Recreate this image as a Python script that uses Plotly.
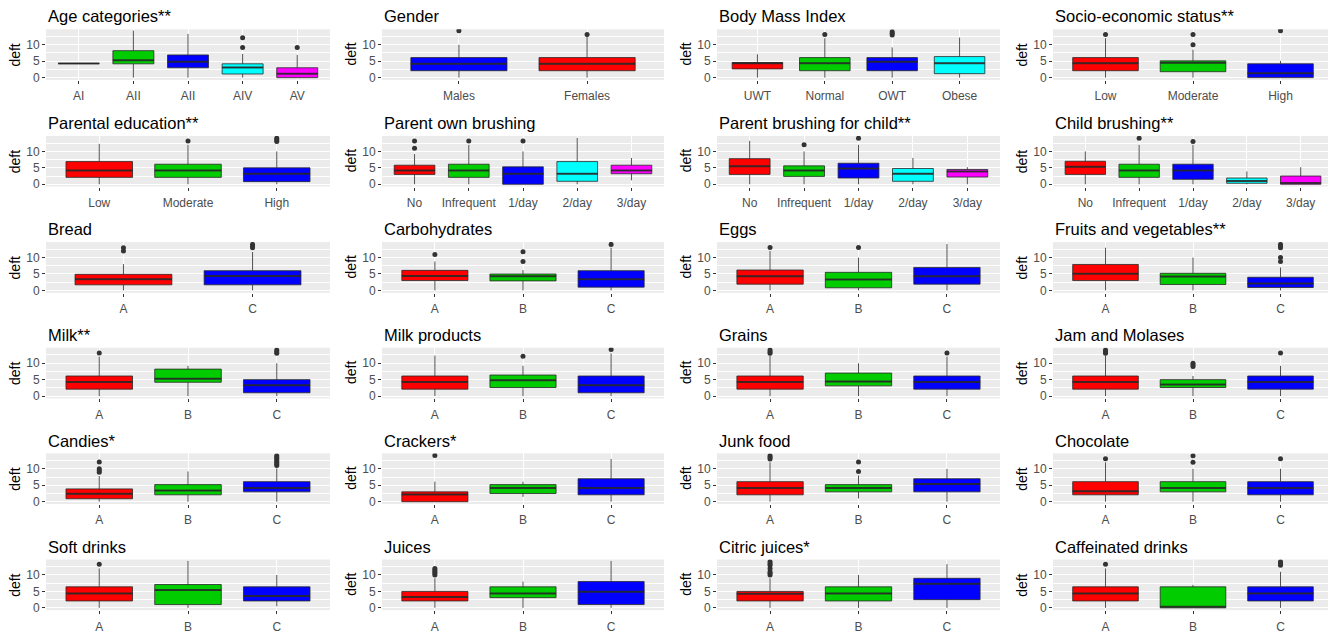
import plotly.graph_objects as go

# ---------------- data ----------------
TITLES = ["Age categories**", "Gender", "Body Mass Index", "Socio-economic status**",
          "Parental education**", "Parent own brushing", "Parent brushing for child**", "Child brushing**",
          "Bread", "Carbohydrates", "Eggs", "Fruits and vegetables**",
          "Milk**", "Milk products", "Grains", "Jam and Molases",
          "Candies*", "Crackers*", "Junk food", "Chocolate",
          "Soft drinks", "Juices", "Citric juices*", "Caffeinated drinks"]

BRUSH = ["No", "Infrequent", "1/day", "2/day", "3/day"]
ABC = ["A", "B", "C"]
CATEGORIES = [["AI", "AII", "AII", "AIV", "AV"], ["Males", "Females"], ["UWT", "Normal", "OWT", "Obese"],
              ["Low", "Moderate", "High"], ["Low", "Moderate", "High"], BRUSH, BRUSH, BRUSH,
              ["A", "C"], ABC, ABC, ABC, ABC, ABC, ABC, ABC, ABC, ABC, ABC, ABC, ABC, ABC, ABC, ABC]

Q1 = [[4.3, 4.2, 3.0, 1.1, 0.0], [2.1, 2.1], [2.65, 2.1, 2.1, 1.2], [2.1, 1.8, 0.0],
      [2.1, 2.1, 0.8], [3.0, 2.1, 0.0, 0.9, 3.2], [3.0, 2.4, 1.9, 0.9, 2.2], [3.0, 2.1, 1.5, 0.3, 0.0],
      [1.7, 1.7], [3.0, 2.9, 1.0], [1.9, 0.8, 1.9], [3.0, 1.8, 0.9],
      [2.1, 4.2, 1.0], [2.1, 2.6, 1.0], [2.1, 3.1, 2.1], [2.1, 2.6, 2.1],
      [0.9, 2.1, 3.0], [0.0, 2.5, 2.1], [2.1, 3.0, 3.0], [2.1, 3.0, 2.1],
      [2.1, 1.0, 2.1], [2.1, 3.1, 1.0], [2.1, 2.1, 2.5], [2.1, 0.0, 2.1]]
MEDIAN = [[4.3, 5.3, 4.8, 3.1, 1.2], [4.2, 4.2], [4.4, 4.4, 4.8, 4.4], [4.4, 4.5, 1.3],
          [4.2, 4.2, 3.2], [4.2, 4.2, 3.2, 3.2, 4.2], [5.5, 4.2, 4.8, 3.2, 3.9], [5.3, 4.2, 4.2, 1.0, 0.4],
          [3.4, 4.4], [4.4, 4.3, 3.4], [4.3, 3.3, 4.3], [5.1, 4.2, 2.1],
          [4.3, 5.3, 3.3], [4.3, 4.8, 3.3], [4.3, 4.4, 4.3], [4.3, 3.5, 4.3],
          [2.4, 3.4, 4.2], [2.2, 4.2, 4.2], [4.2, 4.2, 5.4], [3.2, 4.2, 4.2],
          [4.4, 5.4, 3.6], [3.3, 4.4, 4.9], [4.3, 4.4, 7.3], [4.4, 0.3, 4.4]]
Q3 = [[4.3, 8.2, 6.9, 4.2, 3.0], [6.1, 6.1], [4.6, 6.1, 6.1, 6.4], [6.1, 5.1, 4.2],
      [6.9, 6.1, 5.0], [5.8, 6.1, 5.3, 6.9, 5.8], [7.8, 5.6, 6.4, 4.8, 4.5], [7.0, 6.1, 6.1, 1.9, 2.5],
      [4.9, 6.0], [6.1, 5.0, 6.0], [6.2, 5.5, 7.0], [7.9, 5.2, 4.0],
      [6.1, 8.2, 5.0], [6.1, 6.4, 6.1], [6.1, 7.0, 6.1], [6.1, 5.0, 6.1],
      [3.9, 5.2, 6.1], [3.0, 5.2, 7.0], [6.1, 5.2, 7.0], [6.1, 6.1, 6.1],
      [6.4, 7.1, 6.4], [5.0, 6.4, 8.0], [5.0, 6.4, 9.0], [6.4, 6.4, 6.4]]
LOWER = [[4.3, 0, 0, 0, 0], [0, 0], [0, 0, 0, 0], [0, 0, 0],
         [0, 0, 0], [0, 0, 0, 0, 1.2], [0, 0, 0, 0, 0], [0, 0, 0, 0, 0],
         [0, 0], [0, 0, 0], [0, 0, 0], [0, 0, 0],
         [0, 0, 0], [0, 0, 0], [0, 0, 0], [0, 0, 0],
         [0, 0, 0], [0, 1.5, 0], [0, 1.0, 0], [0, 0, 0],
         [0, 0, 0.5], [0, 0, 0], [0, 0, 0], [0, 0, 0]]
UPPER = [[4.3, 14.3, 13.3, 7.2, 6.9], [10, 12.5], [7.1, 12, 9.2, 12.2], [12, 8.5, 5.1],
         [12.3, 12, 10], [9.2, 12, 10, 14.1, 8], [13.2, 10, 12, 8, 5.2], [10, 12, 12, 3.9, 5.2],
         [8, 11.7], [8.8, 6.2, 13], [12, 10, 14.1], [13, 10, 7],
         [12, 9.2, 10], [12.3, 9.2, 13], [12.3, 10, 12], [12.3, 6.1, 9.2],
         [7.8, 9.2, 10.1], [6.1, 6.1, 13], [12, 8, 10], [12, 10, 10],
         [12, 14.3, 10], [9, 8, 14.3], [9, 10, 13.3], [12, 7.0, 11]]
OUTLIERS = [[[], [], [], [9.2, 12.1], [9.2]], [[14.3], [13.1]], [[], [13.1], [13, 13.5, 14], []],
            [[13.1], [10, 13.1], [14.3]],
            [[], [13.2], [13, 13.5, 14]], [[11, 13.2], [13.2], [13.2], [], []],
            [[], [12], [14], [], []], [[], [14], [13], [], []],
            [[12, 13], [13, 13.5, 14]], [[10.9], [8.8, 11.8], [14]], [[13.1], [13.1], []],
            [[], [], [8.8, 10, 13, 13.5, 14]],
            [[13.1], [], [13, 13.5, 14]], [[], [12.1], [14.2]], [[13, 13.5, 14], [], [13.1]],
            [[13, 13.5, 14], [9, 9.5, 10], [13.1]],
            [[9, 9.5, 10, 12.1], [], [11, 11.5, 12, 12.5, 13, 13.5, 14]], [[14.1], [], []],
            [[13, 13.5, 14], [9.2, 12.1], []], [[13.1], [12, 14], [13.1]],
            [[13.3], [], []], [[10, 10.5, 11, 11.5, 12], [], []],
            [[10, 10.5, 11, 12, 13, 13.5, 14], [], []], [[13.3], [], [13, 13.5, 14]]]
Y_TICKS = [0, 5, 10]
Y_MINOR = [2.5, 7.5, 12.5]

# ---------------- style ----------------
RED, GREEN, BLUE, CYAN, MAGENTA = "#FF0000", "#00CC00", "#0000FF", "#00FFFF", "#FF00FF"
FIVE = [RED, GREEN, BLUE, CYAN, MAGENTA]
FILLS = [FIVE, [BLUE, RED], FIVE[:4], FIVE[:3], FIVE[:3], FIVE, FIVE, FIVE, [RED, BLUE]] + [FIVE[:3]] * 15

W, H = 1336, 634          # browser window
OFF = 8                   # default page body margin
FW, FH = W - OFF, H - OFF  # figure size so it ends at the window edge
COLS = [(46, 330), (382, 664), (717, 1000), (1053, 1333)]   # window px
ROW_TOPS = [29.5, 137, 244, 350.5, 457, 564]
PANEL_H = 51
FONT = "Liberation Sans, Arial, sans-serif"
BOX_W = 0.75
EDGE = "rgba(40,40,40,0.8)"


def px_x(px):
    return (px - OFF) / FW


def px_y(py):
    return 1 - (py - OFF) / FH


fig = go.Figure()
annotations = []
layout_axes = {}

for k in range(24):
    r, c = divmod(k, 4)
    left, right = COLS[c]
    top = ROW_TOPS[r]
    bottom = top + PANEL_H
    sfx = "" if k == 0 else str(k + 1)
    xref, yref = "x" + sfx, "y" + sfx
    cats = CATEGORIES[k]
    n = len(cats)
    for i in range(n):
        xpos = i + 1
        fig.add_trace(go.Box(
            x=[xpos], q1=[Q1[k][i]], median=[MEDIAN[k][i]], q3=[Q3[k][i]],
            lowerfence=[LOWER[k][i]], upperfence=[UPPER[k][i]],
            width=BOX_W, whiskerwidth=0, fillcolor=FILLS[k][i],
            line=dict(color=EDGE, width=1), boxpoints=False,
            xaxis=xref, yaxis=yref, showlegend=False, hoverinfo="skip"))
        # thicker median line (ggplot style)
        fig.add_trace(go.Scatter(
            x=[xpos - BOX_W / 2, xpos + BOX_W / 2], y=[MEDIAN[k][i]] * 2,
            mode="lines", line=dict(color=EDGE, width=2),
            xaxis=xref, yaxis=yref, showlegend=False, hoverinfo="skip"))
        outs = OUTLIERS[k][i]
        if outs:
            fig.add_trace(go.Scatter(
                x=[xpos] * len(outs), y=outs, mode="markers",
                marker=dict(color="#333333", size=5),
                xaxis=xref, yaxis=yref, showlegend=False, hoverinfo="skip"))

    layout_axes["xaxis" + sfx] = dict(
        domain=[px_x(left), px_x(right)], anchor=yref, range=[0.4, n + 0.6],
        tickvals=list(range(1, n + 1)), ticktext=cats,
        showgrid=True, gridcolor="white", gridwidth=1.1, zeroline=False,
        ticks="outside", ticklen=3, tickcolor="#333333", tickwidth=1,
        ticklabelstandoff=2,
        tickfont=dict(family=FONT, size=12, color="#4D4D4D"), fixedrange=True)
    layout_axes["yaxis" + sfx] = dict(
        domain=[px_y(bottom), px_y(top)], anchor=xref, range=[-0.7, 14.7],
        tickvals=Y_TICKS, showgrid=True, gridcolor="white", gridwidth=1.1, zeroline=False,
        ticks="outside", ticklen=3, tickcolor="#333333", tickwidth=1,
        tickfont=dict(family=FONT, size=12, color="#4D4D4D"), fixedrange=True,
        minor=dict(tickvals=Y_MINOR, showgrid=True, gridcolor="white", gridwidth=0.5, ticks=""))

    annotations.append(dict(
        text=TITLES[k], x=px_x(left), y=px_y(top - 13), xref="paper", yref="paper",
        xanchor="left", yanchor="middle", showarrow=False,
        font=dict(family=FONT, size=16.5, color="black")))
    annotations.append(dict(
        text="deft", x=px_x(left - 31), y=px_y(top + PANEL_H / 2), xref="paper", yref="paper",
        xanchor="center", yanchor="middle", textangle=-90, showarrow=False,
        font=dict(family=FONT, size=14, color="black")))

fig.update_layout(
    width=FW, height=FH, margin=dict(l=0, r=0, t=0, b=0),
    paper_bgcolor="white", plot_bgcolor="#EBEBEB",
    annotations=annotations, showlegend=False, **layout_axes)

fig.write_html("out.html")
